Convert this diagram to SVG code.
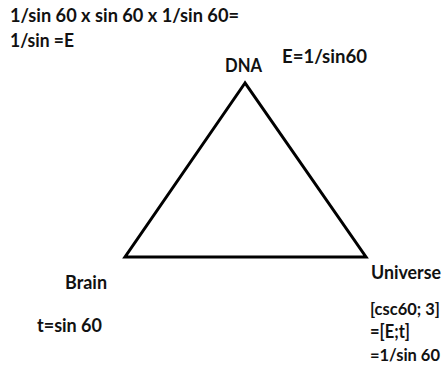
<svg xmlns="http://www.w3.org/2000/svg" width="444" height="371" viewBox="0 0 444 371">
<style>
text{font-family:Lato,"Liberation Sans",sans-serif;font-weight:bold;font-size:18px;fill:#111}
.edge{fill:none;stroke:#000;stroke-width:3;stroke-linejoin:miter}
.fit{font-size:17px}
</style>
<rect width="444" height="371" fill="#fff"/>
<g id="notes">
<text x="10" y="22" textLength="229" lengthAdjust="spacingAndGlyphs">1/sin 60 x sin 60 x 1/sin 60=</text>
<text x="10" y="47" textLength="64" lengthAdjust="spacingAndGlyphs">1/sin =E</text>
</g>
<g id="connectors">
<path class="edge" d="M245,83 L125,257 L366,257 Z"/>
</g>
<g id="node-dna">
<text x="225" y="72" textLength="37" lengthAdjust="spacingAndGlyphs">DNA</text>
<text x="282" y="63" textLength="85" lengthAdjust="spacingAndGlyphs">E=1/sin60</text>
</g>
<g id="node-brain">
<text x="65" y="289" textLength="42" lengthAdjust="spacingAndGlyphs">Brain</text>
<text x="37" y="332" textLength="65" lengthAdjust="spacingAndGlyphs">t=sin 60</text>
</g>
<g id="node-universe">
<text x="371" y="279" textLength="70" lengthAdjust="spacingAndGlyphs">Universe</text>
<text class="fit" x="370" y="315" textLength="70" lengthAdjust="spacingAndGlyphs">[csc60; 3]</text>
<text x="370" y="338" textLength="40" lengthAdjust="spacingAndGlyphs">=[E;t]</text>
<text class="fit" x="370" y="361" textLength="70" lengthAdjust="spacingAndGlyphs">=1/sin 60</text>
</g>
</svg>
